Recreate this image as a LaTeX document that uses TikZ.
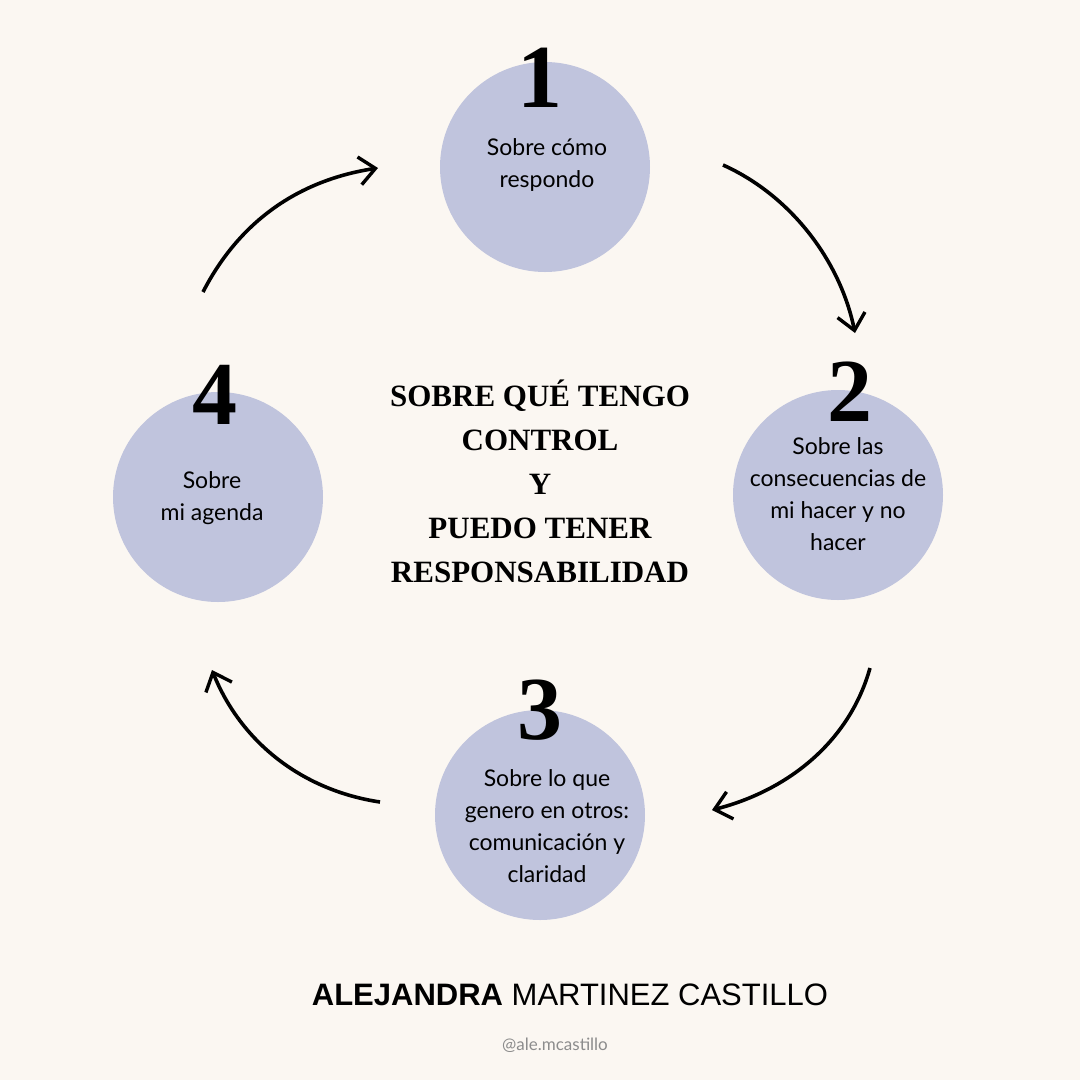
\documentclass[tikz,border=0pt]{standalone}
\usepackage{fontspec}
\setmainfont{Liberation Serif}
\setsansfont{Lato}
\newfontfamily\authorfont{Liberation Sans}
\usetikzlibrary{arrows.meta}
\definecolor{bg}{HTML}{FBF7F2}
\definecolor{circ}{HTML}{C0C4DD}
\begin{document}
\begin{tikzpicture}[x=1pt,y=-1pt,
  blob/.style={circle,fill=circ,minimum size=210pt,inner sep=0pt},
  num/.style={font=\fontsize{90}{90}\selectfont\bfseries,text=black},
  lab/.style={font=\sffamily\fontsize{23}{32}\selectfont,align=center,text=black},
  arr/.style={line width=3.6pt,-{Straight Barb[length=16pt,width=28pt,line width=3.4pt]}}]
\fill[bg] (0,0) rectangle (1080,1080);
\useasboundingbox (0,0) rectangle (1080,1080);
\node[blob] (c1) at (545,167) {};
\node[blob] (c2) at (838,495) {};
\node[blob] (c3) at (540,815) {};
\node[blob] (c4) at (218,497) {};
\node[num] (n1) at (540,78) {1};
\node[num] (n2) at (850,392) {2};
\node[num] (n3) at (540,710) {3};
\node[num] (n4) at (215,395) {4};
\node[lab] (t1) at (547,165) {Sobre cómo\\respondo};
\node[lab] (t2) at (838,494) {Sobre las\\consecuencias de\\mi hacer y no\\hacer};
\node[lab] (t3) at (547,826) {Sobre lo que\\genero en otros:\\comunicación y\\claridad};
\node[lab] (t4) at (212,498) {Sobre\\mi agenda};
\node[font=\fontsize{31}{44}\selectfont\bfseries,align=center] (ctr) at (540,481)
  {SOBRE QUÉ TENGO\\CONTROL\\Y\\PUEDO TENER\\RESPONSABILIDAD};
\coordinate (a1s) at (203,292); \coordinate (a1e) at (378,168);
\coordinate (a2s) at (723,165); \coordinate (a2e) at (855,333);
\coordinate (a3s) at (870,668); \coordinate (a3e) at (712,810);
\coordinate (a4s) at (380,802); \coordinate (a4e) at (212,670);
\draw[arr] (a1s) .. controls (240,220) and (300,180) .. (a1e);
\draw[arr] (a2s) .. controls (790,195) and (840,260) .. (a2e);
\draw[arr] (a3s) .. controls (850,740) and (790,790) .. (a3e);
\draw[arr] (a4s) .. controls (300,790) and (240,740) .. (a4e);
\node[font=\authorfont\fontsize{31}{31}\selectfont] (auth) at (570,995)
  {\textbf{ALEJANDRA} MARTINEZ CASTILLO};
\node[font=\sffamily\fontsize{17}{17}\selectfont,text=black!45] (h) at (555,1045) {@ale.mcastillo};
\end{tikzpicture}
\end{document}
